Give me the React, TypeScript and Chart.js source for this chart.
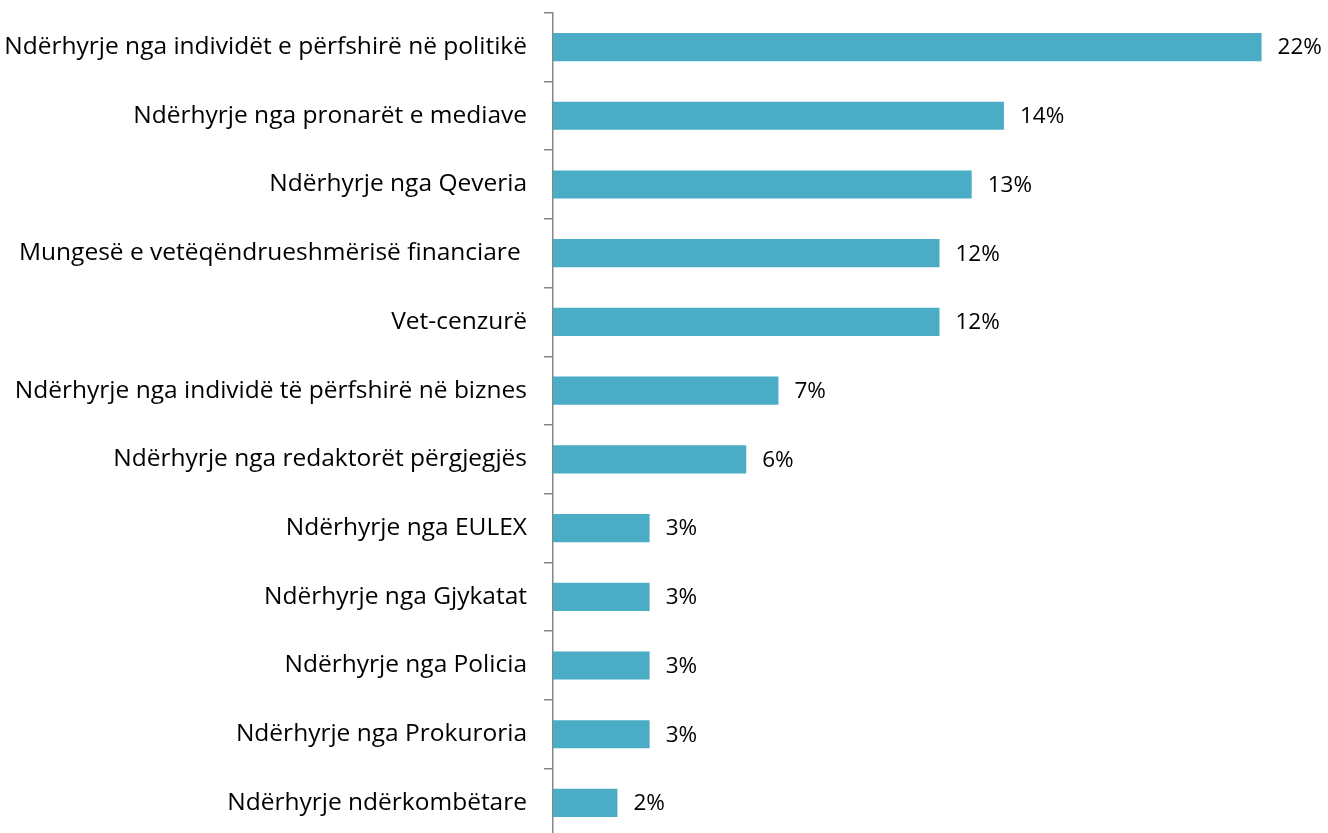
import React, { useEffect, useRef } from "react";
import { Chart, registerables } from "chart.js";

Chart.register(...registerables);

const categories: string[] = [
  "Ndërhyrje nga individët e përfshirë në politikë",
  "Ndërhyrje nga pronarët e mediave",
  "Ndërhyrje nga Qeveria",
  "Mungesë e vetëqëndrueshmërisë financiare ",
  "Vet-cenzurë",
  "Ndërhyrje nga individë të përfshirë në biznes",
  "Ndërhyrje nga redaktorët përgjegjës",
  "Ndërhyrje nga EULEX",
  "Ndërhyrje nga Gjykatat",
  "Ndërhyrje nga Policia",
  "Ndërhyrje nga Prokuroria",
  "Ndërhyrje ndërkombëtare",
];

const values: number[] = [22, 14, 13, 12, 12, 7, 6, 3, 3, 3, 3, 2];

const FONT = "'Open Sans', sans-serif";

const labelPlugin = {
  id: "barValueLabels",
  afterDatasetsDraw(chart: any) {
    const ctx = chart.ctx;
    const meta = chart.getDatasetMeta(0);
    ctx.save();
    ctx.font = `22.5px ${FONT}`;
    ctx.fillStyle = "#000000";
    ctx.textAlign = "left";
    ctx.textBaseline = "middle";
    meta.data.forEach((bar: any, i: number) => {
      ctx.fillText(values[i] + "%", bar.x + 16, bar.y + 1);
    });
    ctx.restore();
  },
};

export default function App() {
  const ref = useRef<HTMLCanvasElement | null>(null);

  useEffect(() => {
    if (!ref.current) return;
    const chart = new Chart(ref.current, {
      type: "bar",
      data: {
        labels: categories,
        datasets: [
          {
            data: values,
            backgroundColor: "#4BACC6",
            borderWidth: 0,
            barPercentage: 0.41,
            categoryPercentage: 1,
          },
        ],
      },
      options: {
        indexAxis: "y",
        animation: false,
        responsive: false,
        maintainAspectRatio: false,
        layout: { padding: { top: 0, bottom: 0, left: 0, right: 2 } },
        plugins: {
          legend: { display: false },
          tooltip: { enabled: false },
        },
        scales: {
          x: {
            display: false,
            min: 0,
            max: 24,
          },
          y: {
            afterFit(scale: any) {
              scale.width = 553;
            },
            grid: {
              display: true,
              drawOnChartArea: false,
              drawTicks: true,
              tickLength: 9,
              color: "#868686",
              lineWidth: 1.5,
              offset: true,
            },
            border: { display: true, color: "#868686", width: 1.5 },
            ticks: {
              color: "#000000",
              padding: 17,
              font: { family: FONT, size: 24.5 },
              autoSkip: false,
            },
          },
        },
      },
      plugins: [labelPlugin],
    });
    return () => chart.destroy();
  }, []);

  return (
    <div style={{ position: "fixed", left: 0, top: 0, width: 1328, height: 833, overflow: "hidden", background: "#fff" }}>
      <canvas ref={ref} width={1328} height={888} style={{ display: "block", position: "absolute", left: 0, top: -19 }} />
    </div>
  );
}
